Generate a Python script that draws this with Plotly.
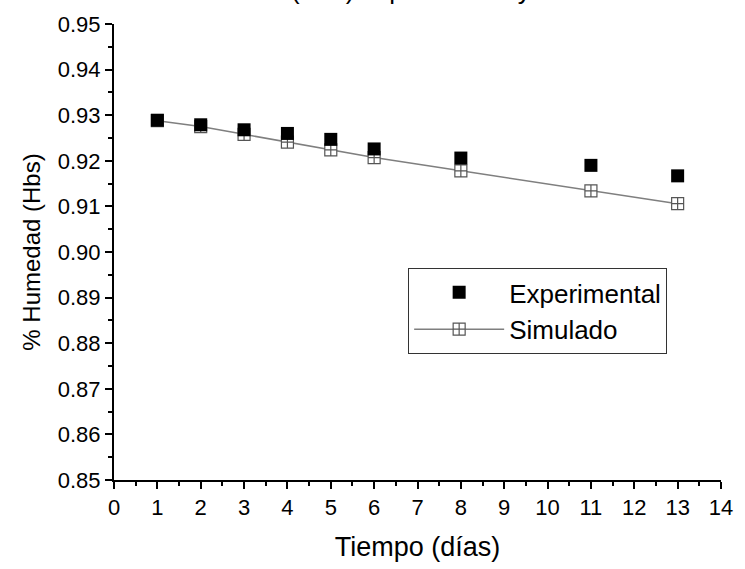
import plotly.graph_objects as go

dias = [1, 2, 3, 4, 5, 6, 8, 11, 13]
experimental = [0.9289, 0.9279, 0.9268, 0.9260, 0.9247, 0.9226, 0.9206, 0.9190, 0.9167]
simulado = [0.9288, 0.9275, 0.9258, 0.9241, 0.9224, 0.9207, 0.9178, 0.9134, 0.9106]

FONT = "Liberation Sans, Arial, sans-serif"

fig = go.Figure()
fig.add_trace(go.Scatter(
    x=dias, y=simulado, name="Simulado", mode="lines+markers",
    line=dict(color="#7f7f7f", width=1.5),
    marker=dict(symbol="square-cross", size=12, color="white",
                line=dict(color="#555555", width=1.2)),
))
fig.add_trace(go.Scatter(
    x=dias, y=experimental, name="Experimental", mode="markers",
    marker=dict(symbol="square", size=13, color="black",
                line=dict(color="black", width=0)),
))

axis_common = dict(
    showline=True, linecolor="black", linewidth=2, mirror=False,
    ticks="outside", ticklen=7, tickwidth=2, tickcolor="black",
    showgrid=False, zeroline=False,
    tickfont=dict(family=FONT, size=22, color="black"),
)
fig.update_xaxes(
    range=[0, 14], dtick=1, tick0=0,
    minor=dict(dtick=0.5, ticks="outside", ticklen=4, tickwidth=2, tickcolor="black", showgrid=False),
    title=dict(text="Tiempo (días)", font=dict(family=FONT, size=27, color="black"), standoff=18),
    **axis_common,
)
fig.update_yaxes(
    range=[0.85, 0.95], dtick=0.01, tick0=0.85, tickformat=".2f",
    minor=dict(dtick=0.005, ticks="outside", ticklen=4, tickwidth=2, tickcolor="black", showgrid=False),
    title=dict(text="% Humedad (Hbs)", font=dict(family=FONT, size=24, color="black"), standoff=10),
    **axis_common,
)

fig.add_annotation(
    text="Humedad (Hbs) experimental y simulada", xref="paper", yref="paper",
    x=0.09, y=1, xanchor="left", yanchor="bottom", yshift=17, showarrow=False,
    font=dict(family=FONT, size=26, color="black"),
)

fig.update_layout(
    width=745, height=569,
    margin=dict(l=114, r=14, t=16, b=82),
    paper_bgcolor="white", plot_bgcolor="white",
    showlegend=True,
    legend=dict(
        x=0.4846, y=0.465, xanchor="left", yanchor="top",
        bordercolor="#333333", borderwidth=1, bgcolor="white",
        font=dict(family=FONT, size=26, color="black"),
        traceorder="reversed", itemwidth=90,
    ),
)

fig.write_html("out.html")
